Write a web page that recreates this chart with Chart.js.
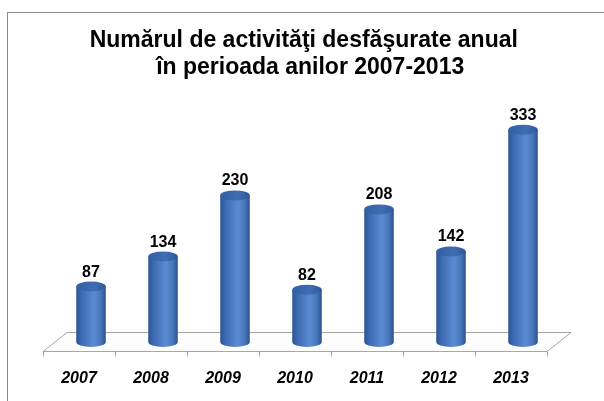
<!DOCTYPE html>
<html>
<head>
<meta charset="utf-8">
<script src="https://cdn.jsdelivr.net/npm/chart.js@4/dist/chart.umd.min.js"></script>
<style>
    body { margin: 0; background: #fff; }
    canvas { display: block; }
</style>
</head>
<body>
<canvas id="activityChart" width="604" height="401"></canvas>
<script>
// Data
const years = ['2007', '2008', '2009', '2010', '2011', '2012', '2013'];
const activityCounts = [87, 134, 230, 82, 208, 142, 333];
const titleLines = ['Numărul de activităţi desfăşurate anual ', ' în perioada anilor 2007-2013'];

// 3D floor depth (half offsets from bar centre line)
const depthX = 12;
const depthY = 9.5;

// Outer border + white background
const frame = {
    id: 'frame',
    beforeDraw(chart) {
        const ctx = chart.ctx;
        ctx.save();
        ctx.fillStyle = '#fff';
        ctx.fillRect(0, 0, chart.width, chart.height);
        ctx.strokeStyle = '#8c8c8c';
        ctx.lineWidth = 1;
        ctx.strokeRect(7.5, 12.5, chart.width + 20, chart.height + 20);
        ctx.restore();
    }
};

// Floor plane, tick marks and year labels
const floor = {
    id: 'floor',
    beforeDatasetsDraw(chart) {
        const ctx = chart.ctx;
        const area = chart.chartArea;
        const x = chart.scales.x;
        const y0 = chart.scales.y.getPixelForValue(0);
        const frontY = y0 + depthY;
        const backY = y0 - depthY;

        ctx.save();
        ctx.strokeStyle = '#a6a6a6';
        ctx.fillStyle = '#fdfdfd';
        ctx.lineWidth = 1;
        ctx.beginPath();
        ctx.moveTo(area.left - depthX, frontY);
        ctx.lineTo(area.right - depthX, frontY);
        ctx.lineTo(area.right + depthX, backY);
        ctx.lineTo(area.left + depthX, backY);
        ctx.closePath();
        ctx.fill();
        ctx.stroke();

        // ticks at category boundaries on the front edge
        const step = (area.right - area.left) / years.length;
        ctx.beginPath();
        for (let i = 0; i <= years.length; i++) {
            const tx = Math.round(area.left - depthX + step * i) + 0.5;
            ctx.moveTo(tx, frontY);
            ctx.lineTo(tx, frontY + 5);
        }
        ctx.stroke();

        // year labels under the front edge
        ctx.fillStyle = '#000';
        ctx.font = 'italic bold 16px Arial, "Liberation Sans", sans-serif';
        ctx.textAlign = 'center';
        ctx.textBaseline = 'alphabetic';
        years.forEach((label, i) => {
            ctx.fillText(label, x.getPixelForValue(i) - depthX, 383);
        });
        ctx.restore();
    }
};

// Cylinders with value labels
const cylinders = {
    id: 'cylinders',
    afterDatasetsDraw(chart) {
        const ctx = chart.ctx;
        const meta = chart.getDatasetMeta(0);
        meta.data.forEach((bar, i) => {
            const left = bar.x - bar.width / 2;
            const right = bar.x + bar.width / 2;
            const rx = bar.width / 2;
            const ry = 5;

            const body = ctx.createLinearGradient(left, 0, right, 0);
            body.addColorStop(0, '#2c5596');
            body.addColorStop(0.2, '#3d6cb5');
            body.addColorStop(0.6, '#5b8bd2');
            body.addColorStop(0.85, '#4674b8');
            body.addColorStop(1, '#2a4f88');

            ctx.save();
            ctx.fillStyle = body;
            ctx.beginPath();
            ctx.moveTo(left, bar.y);
            ctx.lineTo(left, bar.base);
            ctx.ellipse(bar.x, bar.base, rx, ry, 0, Math.PI, 0, true);
            ctx.lineTo(right, bar.y);
            ctx.closePath();
            ctx.fill();

            const top = ctx.createLinearGradient(left, 0, right, 0);
            top.addColorStop(0, '#335fa3');
            top.addColorStop(0.6, '#406db3');
            top.addColorStop(1, '#2f5898');
            ctx.fillStyle = top;
            ctx.beginPath();
            ctx.ellipse(bar.x, bar.y, rx, ry, 0, 0, Math.PI * 2);
            ctx.fill();

            ctx.fillStyle = '#000';
            ctx.font = 'bold 16px Arial, "Liberation Sans", sans-serif';
            ctx.textAlign = 'center';
            ctx.textBaseline = 'alphabetic';
            ctx.fillText(String(activityCounts[i]), bar.x, bar.y - 10);
            ctx.restore();
        });
    }
};

const chart = new Chart(document.getElementById('activityChart'), {
    type: 'bar',
    data: {
        labels: years,
        datasets: [{
            data: activityCounts,
            backgroundColor: 'rgba(0,0,0,0)',
            borderWidth: 0,
            categoryPercentage: 1,
            barPercentage: 0.41
        }]
    },
    options: {
        responsive: false,
        animation: false,
        events: [],
        layout: {
            padding: { left: 55, right: 45, top: 0, bottom: 59 }
        },
        scales: {
            x: { display: false },
            y: { display: false, min: 0, max: 400 }
        },
        plugins: {
            legend: { display: false },
            tooltip: { enabled: false },
            title: {
                display: true,
                text: titleLines,
                color: '#000',
                font: { family: 'Arial, "Liberation Sans", sans-serif', size: 23, weight: 'bold', lineHeight: 1.174 },
                padding: { top: 27, bottom: 6 }
            }
        }
    },
    plugins: [frame, floor, cylinders]
});
</script>
</body>
</html>
